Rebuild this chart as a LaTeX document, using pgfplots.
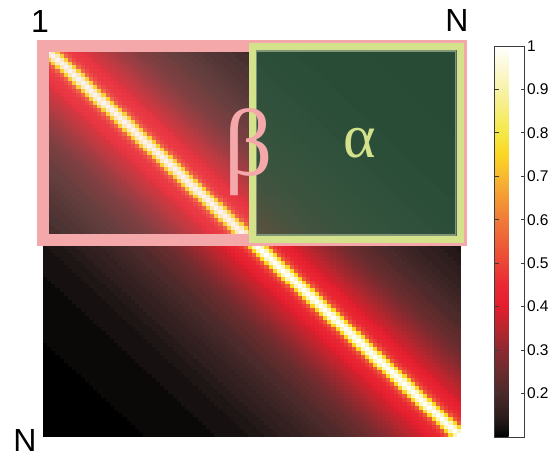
\documentclass[border=0pt]{standalone}
\usepackage{fontspec}
\setmainfont{Liberation Sans}
\newfontfamily\greekfont{Liberation Serif}
\usepackage{pgfplots}
\usepackage{pgfplotstable}
\pgfplotsset{compat=1.18}
\definecolor{pinkf}{RGB}{245,168,170}
\definecolor{greenb}{RGB}{212,226,140}
\definecolor{greenf}{RGB}{40,90,62}
\definecolor{cbframe}{RGB}{60,60,60}
\pgfdeclareplotmark{cell}{\pgfpathrectangle{\pgfpoint{-2.17bp}{-2.03bp}}{\pgfpoint{4.34bp}{4.06bp}}\pgfusepathqfill}

% profile of the matrix value against the offset d = column - row
\pgfplotstableread{
d v
-99 10
-98 10
-97 10
-96 10
-95 10
-94 10
-93 10
-92 10
-91 10
-90 10
-89 10
-88 10
-87 10
-86 10
-85 10
-84 10
-83 10
-82 10
-81 10
-80 10
-79 10
-78 10
-77 10
-76 10
-75 11
-74 11
-73 11
-72 11
-71 11
-70 11
-69 11
-68 11
-67 11
-66 11
-65 11
-64 11
-63 11
-62 11
-61 11
-60 11
-59 11
-58 12
-57 12
-56 12
-55 12
-54 12
-53 12
-52 12
-51 12
-50 13
-49 13
-48 13
-47 13
-46 14
-45 14
-44 14
-43 15
-42 15
-41 15
-40 16
-39 16
-38 16
-37 17
-36 17
-35 18
-34 18
-33 19
-32 19
-31 20
-30 20
-29 21
-28 21
-27 22
-26 23
-25 23
-24 24
-23 24
-22 25
-21 26
-20 27
-19 28
-18 29
-17 30
-16 31
-15 32
-14 33
-13 34
-12 35
-11 36
-10 37
-9 38
-8 40
-7 42
-6 43
-5 45
-4 48
-3 54
-2 75
-1 93
0 100
1 93
2 75
3 54
4 48
5 45
6 43
7 42
8 40
9 38
10 37
11 36
12 35
13 34
14 33
15 32
16 31
17 30
18 29
19 28
20 27
21 26
22 25
23 24
24 24
25 23
26 23
27 22
28 21
29 21
30 20
31 20
32 19
33 19
34 18
35 18
36 17
37 17
38 16
39 16
40 16
41 15
42 15
43 15
44 14
45 14
46 14
47 13
48 13
49 13
50 13
51 12
52 12
53 12
54 12
55 12
56 12
57 12
58 12
59 11
60 11
61 11
62 11
63 11
64 11
65 11
66 11
67 11
68 11
69 11
70 11
71 11
72 11
73 11
74 11
75 11
76 10
77 10
78 10
79 10
80 10
81 10
82 10
83 10
84 10
85 10
86 10
87 10
88 10
89 10
90 10
91 10
92 10
93 10
94 10
95 10
96 10
97 10
98 10
99 10
}\prof

\begin{document}
\begin{tikzpicture}
\begin{axis}[
  at={(43bp,21bp)}, anchor=south west,
  scale only axis, width=418bp, height=391bp,
  xmin=-0.5, xmax=99.5, ymin=-0.5, ymax=99.5,
  y dir=reverse, hide axis, clip=false,
  point meta min=10, point meta max=100,
  colormap={hotp}{rgb255(0pt)=(0,0,0); rgb255(2pt)=(22,16,16); rgb255(5pt)=(46,30,30); rgb255(10pt)=(74,42,42); rgb255(15pt)=(106,44,46); rgb255(20pt)=(140,42,48); rgb255(25pt)=(184,38,46); rgb255(30pt)=(228,30,46); rgb255(35pt)=(234,40,52); rgb255(40pt)=(236,68,54); rgb255(50pt)=(240,122,56); rgb255(60pt)=(248,184,48); rgb255(65pt)=(252,214,34); rgb255(70pt)=(245,232,70); rgb255(80pt)=(248,242,168); rgb255(90pt)=(255,255,255)},
  colorbar,
  colorbar style={
    at={(parent axis.north east)}, anchor=north west, xshift=25bp,
    scale only axis, width=30bp, height=391bp,
    ytick={20,30,40,50,60,70,80,90,100},
    yticklabels={0.2,0.3,0.4,0.5,0.6,0.7,0.8,0.9,1},
    tick align=inside, ytick pos=both, yticklabel pos=right,
    major tick length=4bp,
    tick style={cbframe, line width=0.8bp},
    axis line style={cbframe, line width=0.9bp},
    yticklabel style={font=\fontsize{15.5bp}{17bp}\selectfont, xshift=-1bp},
  },
]
\pgfplotsinvokeforeach{0,...,99}{
  \addplot[scatter, only marks, mark=cell, scatter src=explicit,
    restrict x to domain=-0.1:99.1]
    table[x expr=\thisrow{d}+#1, y expr=#1, meta=v]{\prof};
}
\end{axis}
% beta region (top half of the matrix)
\draw[pinkf, line width=12bp, fill=pinkf, fill opacity=0.16]
  (43bp,218bp) rectangle (461bp,412bp);
% alpha region (top right quadrant)
\draw[greenb, line width=7bp, fill=greenf, fill opacity=0.77]
  (252bp,218.5bp) rectangle (460bp,411.5bp);
\draw[color={rgb,255:red,140;green,160;blue,128}, line width=1.5bp, opacity=0.8]
  (256.3bp,222.8bp) rectangle (455.7bp,407.2bp);
\node at (40bp,437bp) {\fontsize{32bp}{36bp}\selectfont 1};
\node at (457bp,438bp) {\fontsize{32bp}{36bp}\selectfont N};
\node at (25bp,18bp) {\fontsize{32bp}{36bp}\selectfont N};
\node[pinkf] at (249bp,306bp) {\greekfont\fontsize{95bp}{100bp}\selectfont β};
\node[greenb] at (360bp,315bp) {\greekfont\fontsize{62bp}{66bp}\selectfont α};
\pgfresetboundingbox
\useasboundingbox (0,0) rectangle (553bp,458bp);
\end{tikzpicture}
\end{document}
